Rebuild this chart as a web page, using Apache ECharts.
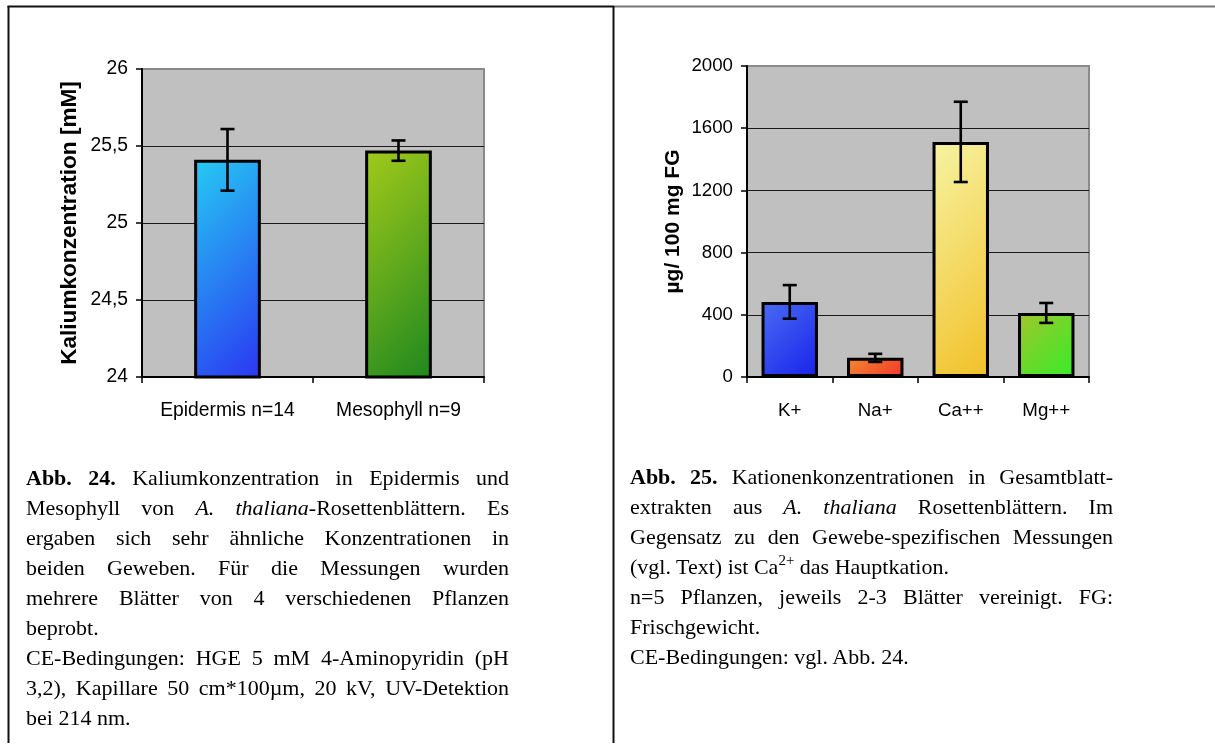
<!DOCTYPE html>
<html>
<head>
<meta charset="utf-8">
<script src="https://cdn.jsdelivr.net/npm/echarts@6/dist/echarts.min.js"></script>
<style>
  html, body { margin: 0; padding: 0; background: #fff; }
  #chart { position: absolute; left: 0; top: 0; width: 1215px; height: 746px; }
  .cap { position: absolute; width: 483px; font-family: "Liberation Serif", "Times New Roman", serif;
         font-size: 22px; line-height: 30px; color: #000; }
  .cap div { text-align: justify; text-align-last: justify; white-space: normal; }
  .cap div.l { text-align: left; text-align-last: left; }
  .cap sup { font-size: 15px; line-height: 0; vertical-align: 9px; }
</style>
</head>
<body>
<div id="chart"></div>
<div class="cap" id="capA" style="left:26px; top:463px;">
  <div><b>Abb. 24.</b> Kaliumkonzentration in Epidermis und</div>
  <div>Mesophyll von <i>A. thaliana</i>-Rosettenblättern. Es</div>
  <div>ergaben sich sehr ähnliche Konzentrationen in</div>
  <div>beiden Geweben. Für die Messungen wurden</div>
  <div>mehrere Blätter von 4 verschiedenen Pflanzen</div>
  <div class="l">beprobt.</div>
  <div>CE-Bedingungen: HGE 5 mM 4-Aminopyridin (pH</div>
  <div>3,2), Kapillare 50 cm*100µm, 20 kV, UV-Detektion</div>
  <div class="l">bei 214 nm.</div>
</div>
<div class="cap" id="capB" style="left:630px; top:462px;">
  <div><b>Abb. 25.</b> Kationenkonzentrationen in Gesamtblatt-</div>
  <div>extrakten aus <i>A. thaliana</i> Rosettenblättern. Im</div>
  <div>Gegensatz zu den Gewebe-spezifischen Messungen</div>
  <div class="l">(vgl. Text) ist Ca<sup>2+</sup> das Hauptkation.</div>
  <div>n=5 Pflanzen, jeweils 2-3 Blätter vereinigt. FG:</div>
  <div class="l">Frischgewicht.</div>
  <div class="l">CE-Bedingungen: vgl. Abb. 24.</div>
</div>
<script>
// ---- Data ----
var catsA = ['Epidermis n=14', 'Mesophyll n=9'];
var meansA = [25.41, 25.47];
var errA = [0.20, 0.066];
var ticksA = ['24', '24,5', '25', '25,5', '26'];

var catsB = ['K+', 'Na+', 'Ca++', 'Mg++'];
var meansB = [483, 123, 1512, 412];
var errB = [108, 26, 258, 64];
var ticksB = ['0', '400', '800', '1200', '1600', '2000'];

// ---- Styles ----
var colorsA = [['#26cbf3', '#2a36f2'], ['#a2ca1a', '#1f881f']];
var colorsB = [['#4a6cf3', '#1822ea'], ['#f2882e', '#f0382c'], ['#f7f4a2', '#f1c028'], ['#a0c62c', '#36ec28']];
var barPctA = 0.39, barPctB = 0.66;

function grad(c, gx, gy) {
  return new echarts.graphic.LinearGradient(0, 0, gx, gy, [
    { offset: 0, color: c[0] }, { offset: 1, color: c[1] }
  ]);
}
function barData(vals, cols, dims) {
  return vals.map(function (v, i) {
    var gx = 1, gy = 1;
    if (dims) { var w = dims[i][0], h = dims[i][1]; gx = (w + h) / (2 * w); gy = (w + h) / (2 * h); }
    return { value: v, itemStyle: { color: grad(cols[i], gx, gy) } };
  });
}
function errData(vals, errs) {
  return vals.map(function (v, i) { return [i, v - errs[i], v + errs[i]]; });
}
function errRender(params, api) {
  var x = api.value(0);
  var pLo = api.coord([x, api.value(1)]);
  var pHi = api.coord([x, api.value(2)]);
  var cap = 7;
  var st = { stroke: '#000', lineWidth: 2.6 };
  return { type: 'group', children: [
    { type: 'line', shape: { x1: pLo[0], y1: pLo[1], x2: pHi[0], y2: pHi[1] }, style: st },
    { type: 'line', shape: { x1: pLo[0] - cap, y1: pLo[1], x2: pLo[0] + cap, y2: pLo[1] }, style: st },
    { type: 'line', shape: { x1: pHi[0] - cap, y1: pHi[1], x2: pHi[0] + cap, y2: pHi[1] }, style: st }
  ]};
}

var sans = '"Liberation Sans", Arial, sans-serif';
function xAxis(idx, cats, fs) {
  return {
    type: 'category', gridIndex: idx, data: cats,
    axisLine: { lineStyle: { color: '#000', width: 2 } },
    axisTick: { show: true, length: 6, lineStyle: { color: '#000', width: 1.5 } },
    axisLabel: { color: '#000', fontSize: fs, fontFamily: sans, margin: 24, interval: 0 }
  };
}
function yAxis(idx, min, max, step, ticks, name, fs, nfs, gap) {
  return {
    type: 'value', gridIndex: idx, min: min, max: max, interval: step,
    name: name, nameLocation: 'middle', nameGap: gap,
    nameTextStyle: { color: '#000', fontSize: nfs, fontWeight: 'bold', fontFamily: sans },
    axisLine: { show: true, lineStyle: { color: '#000', width: 2 } },
    axisTick: { show: true, length: 6, lineStyle: { color: '#000', width: 1.5 } },
    axisLabel: { color: '#000', fontSize: fs, fontFamily: sans, margin: 14,
      formatter: function (v) { return ticks[Math.round((v - min) / step)]; } },
    splitLine: { show: true, showMaxLine: false, showMinLine: false, lineStyle: { color: '#1a1a1a', width: 1.2 } }
  };
}

var chart = echarts.init(document.getElementById('chart'), null, { renderer: 'canvas' });
function buildOption(dimsA, dimsB) {
  return {
    animation: false,
    backgroundColor: '#fff',
    grid: [
      { left: 142, top: 69, width: 342, height: 308, show: true, backgroundColor: '#c0c0c0', borderColor: '#8a8a8a', borderWidth: 2 },
      { left: 747, top: 66, width: 342, height: 311, show: true, backgroundColor: '#c0c0c0', borderColor: '#8a8a8a', borderWidth: 2 }
    ],
    xAxis: [xAxis(0, catsA, 19.3), xAxis(1, catsB, 18.7)],
    yAxis: [
      yAxis(0, 24, 26, 0.5, ticksA, 'Kaliumkonzentration [mM]', 19.3, 22.6, 61),
      yAxis(1, 0, 2000, 400, ticksB, 'µg/ 100 mg FG', 18.7, 21, 63)
    ],
    series: [
      { type: 'bar', xAxisIndex: 0, yAxisIndex: 0, barWidth: (barPctA * 100) + '%', data: barData(meansA, colorsA, dimsA),
        itemStyle: { borderColor: '#000', borderWidth: 3 } },
      { type: 'custom', xAxisIndex: 0, yAxisIndex: 0, renderItem: errRender, data: errData(meansA, errA), z: 5 },
      { type: 'bar', xAxisIndex: 1, yAxisIndex: 1, barWidth: (barPctB * 100) + '%', data: barData(meansB, colorsB, dimsB),
        itemStyle: { borderColor: '#000', borderWidth: 3 } },
      { type: 'custom', xAxisIndex: 1, yAxisIndex: 1, renderItem: errRender, data: errData(meansB, errB), z: 5 }
    ],
    graphic: [
      { type: 'line', shape: { x1: 7.5, y1: 6.5, x2: 614, y2: 6.5 }, style: { stroke: '#111', lineWidth: 2 } },
      { type: 'line', shape: { x1: 614, y1: 6.5, x2: 1215, y2: 6.5 }, style: { stroke: '#777', lineWidth: 2 } },
      { type: 'line', shape: { x1: 8.5, y1: 6, x2: 8.5, y2: 743 }, style: { stroke: '#111', lineWidth: 2 } },
      { type: 'line', shape: { x1: 613.5, y1: 6, x2: 613.5, y2: 743 }, style: { stroke: '#111', lineWidth: 2 } }
    ]
  };
}
chart.setOption(buildOption(null, null));

// second pass: make the gradients run at 45 degrees in pixel space, using the library's own scales
function dims(xi, yi, vals, minV, pct) {
  var f = { xAxisIndex: xi, yAxisIndex: yi };
  var band = Math.abs(chart.convertToPixel(f, [1, minV])[0] - chart.convertToPixel(f, [0, minV])[0]);
  return vals.map(function (v, i) {
    var top = chart.convertToPixel(f, [i, v])[1];
    var bot = chart.convertToPixel(f, [i, minV])[1];
    return [band * pct, Math.max(1, bot - top)];
  });
}
chart.setOption(buildOption(dims(0, 0, meansA, 24, barPctA), dims(1, 1, meansB, 0, barPctB)));
</script>
</body>
</html>
